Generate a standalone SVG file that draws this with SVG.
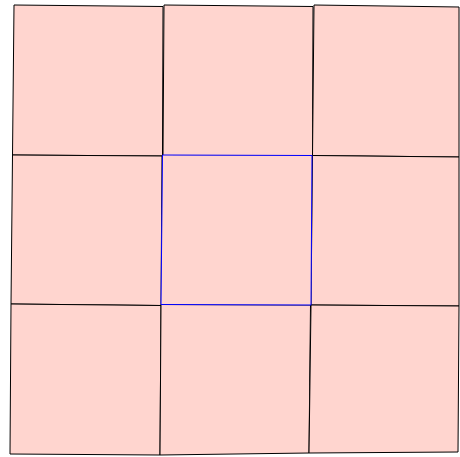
<svg xmlns="http://www.w3.org/2000/svg" width="460" height="457" viewBox="0 0 460 457">
<style>
.cell{fill:#FFD5CF;stroke:#000;stroke-width:1}
.sel{fill:#FFD5CF;stroke:#0000FF;stroke-width:1}
</style>
<rect width="460" height="457" fill="#fff"/>
<g id="cell-0-0"><polygon class="cell" points="14,5 163,6.5 162.5,156 12.5,155"/></g>
<g id="cell-0-1"><polygon class="cell" points="164,5 313,6.5 312.5,156.5 163,155.5"/></g>
<g id="cell-0-2"><polygon class="cell" points="314,5 459,7 459,157 312.5,155.5"/></g>
<g id="cell-1-0"><polygon class="cell" points="12.5,155 162,156 161,305.5 11,304"/></g>
<g id="cell-1-2"><polygon class="cell" points="312.5,155.5 459,157 459,306 311,305"/></g>
<g id="cell-2-0"><polygon class="cell" points="11,304 161,305.5 160,455 10,454"/></g>
<g id="cell-2-1"><polygon class="cell" points="161,304.5 310.5,305 309,453 160,455"/></g>
<g id="cell-2-2"><polygon class="cell" points="311,305 459,306 458,452 309,453"/></g>
<g id="cell-1-1"><polygon class="sel" points="162.5,155 312,155.5 311,305 161,304.5"/></g>
<g id="connectors"></g>
</svg>
